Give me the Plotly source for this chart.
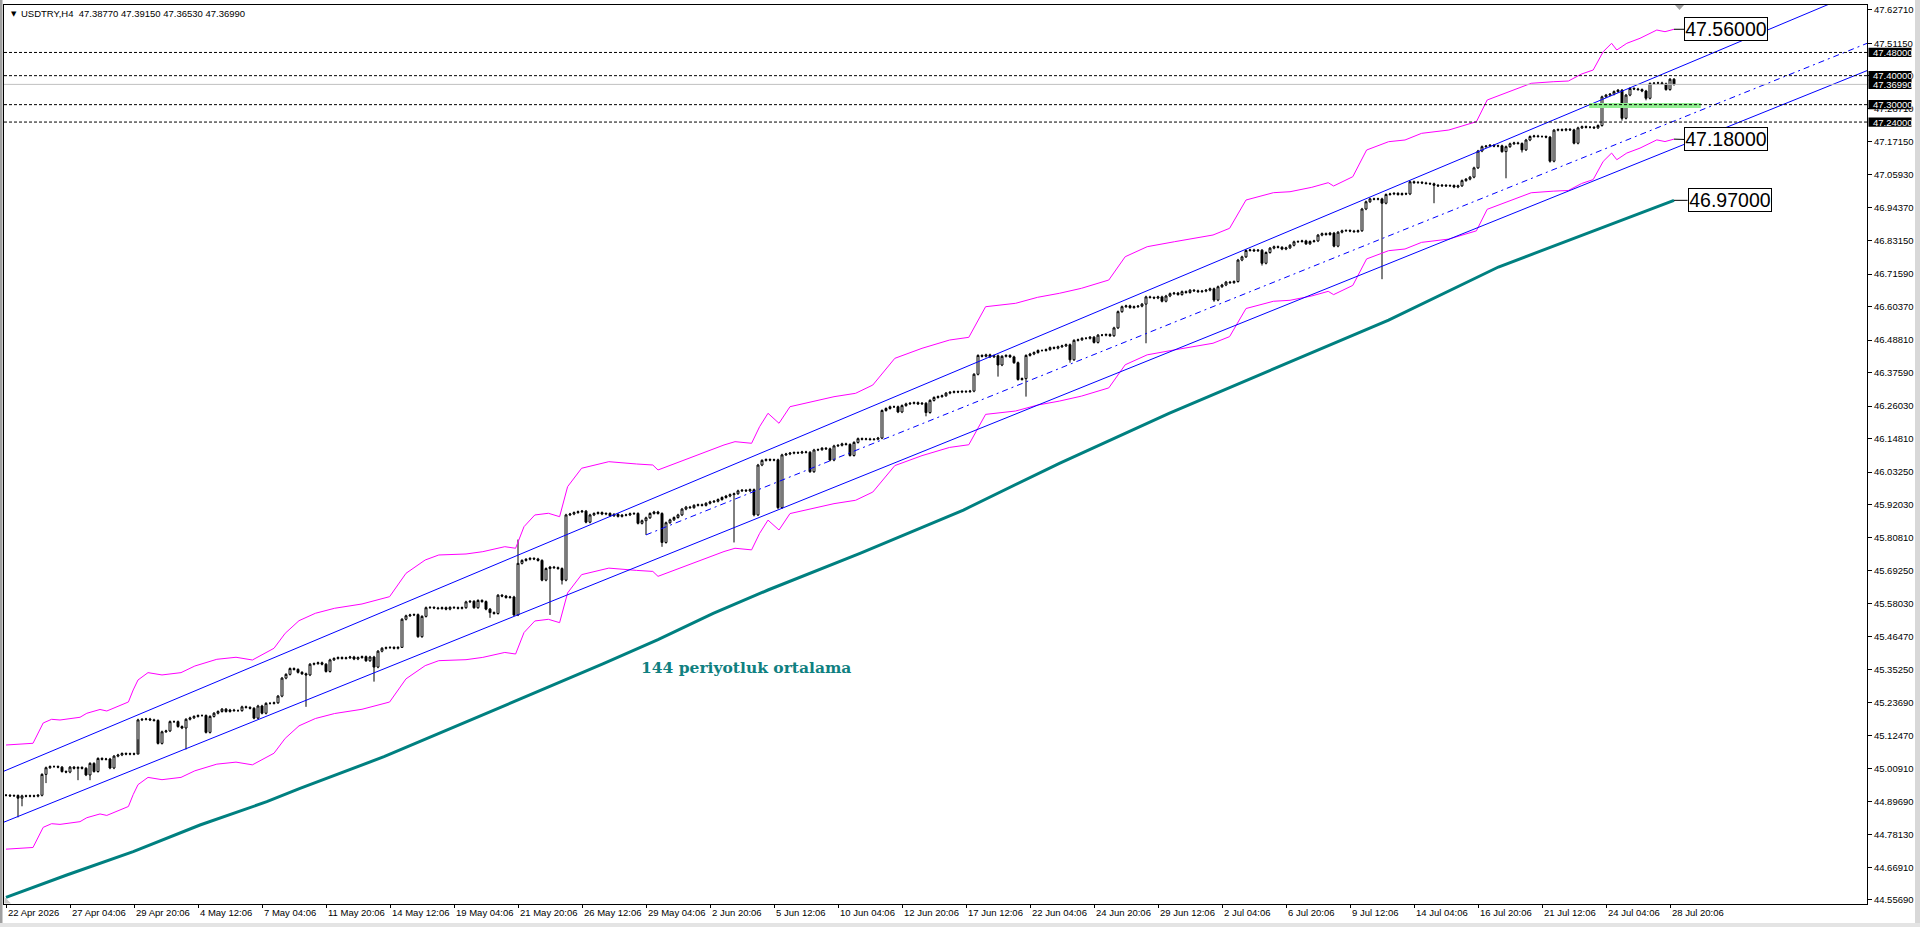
import plotly.graph_objects as go

# ---------------------------------------------------------------- data ----
SYMBOL = "USDTRY,H4"

# H4 closes, bar 0 .. 417
closes = [
    44.918, 44.916, 44.917, 44.908, 44.916, 44.915, 44.916, 44.915, 44.918, 44.990,
    45.013, 45.017, 45.017, 45.015, 45.000, 44.998, 45.015, 45.011, 45.014, 45.011,
    44.988, 45.028, 45.000, 45.045, 45.042, 45.043, 45.012, 45.053, 45.057, 45.062,
    45.060, 45.061, 45.060, 45.178, 45.180, 45.181, 45.178, 45.176, 45.097, 45.137,
    45.140, 45.172, 45.172, 45.155, 45.150, 45.180, 45.185, 45.190, 45.193, 45.193,
    45.135, 45.190, 45.201, 45.207, 45.215, 45.207, 45.212, 45.210, 45.210, 45.223,
    45.221, 45.218, 45.184, 45.226, 45.201, 45.235, 45.235, 45.237, 45.260, 45.322,
    45.335, 45.355, 45.352, 45.342, 45.337, 45.333, 45.370, 45.372, 45.375, 45.370,
    45.345, 45.385, 45.390, 45.393, 45.390, 45.392, 45.395, 45.388, 45.393, 45.396,
    45.382, 45.395, 45.360, 45.415, 45.425, 45.427, 45.428, 45.425, 45.428, 45.525,
    45.537, 45.540, 45.541, 45.465, 45.535, 45.565, 45.566, 45.564, 45.562, 45.565,
    45.560, 45.566, 45.565, 45.563, 45.565, 45.585, 45.587, 45.565, 45.590, 45.586,
    45.560, 45.548, 45.545, 45.608, 45.605, 45.600, 45.602, 45.540, 45.718, 45.728,
    45.732, 45.735, 45.733, 45.728, 45.660, 45.700, 45.705, 45.703, 45.700, 45.660,
    45.885, 45.888, 45.893, 45.896, 45.898, 45.860, 45.885, 45.890, 45.893, 45.888,
    45.890, 45.882, 45.887, 45.880, 45.884, 45.885, 45.889, 45.890, 45.856, 45.865,
    45.875, 45.890, 45.895, 45.890, 45.790, 45.858, 45.868, 45.876, 45.885, 45.905,
    45.912, 45.910, 45.918, 45.920, 45.918, 45.925, 45.930, 45.932, 45.938, 45.945,
    45.950, 45.955, 45.958, 45.968, 45.970, 45.968, 45.972, 45.885, 46.057, 46.073,
    46.076, 46.074, 46.075, 45.910, 46.092, 46.095, 46.098, 46.100, 46.099, 46.102,
    46.101, 46.034, 46.109, 46.110, 46.115, 46.113, 46.074, 46.123, 46.125, 46.130,
    46.128, 46.090, 46.135, 46.148, 46.146, 46.147, 46.145, 46.146, 46.150, 46.245,
    46.252, 46.258, 46.258, 46.240, 46.262, 46.268, 46.270, 46.272, 46.268, 46.270,
    46.238, 46.280, 46.290, 46.293, 46.296, 46.305, 46.308, 46.310, 46.309, 46.311,
    46.310, 46.312, 46.370, 46.435, 46.432, 46.437, 46.430, 46.434, 46.402, 46.432,
    46.435, 46.430, 46.410, 46.352, 46.355, 46.435, 46.440, 46.445, 46.452, 46.452,
    46.455, 46.462, 46.460, 46.465, 46.468, 46.472, 46.420, 46.487, 46.489, 46.494,
    46.494, 46.498, 46.480, 46.505, 46.505, 46.507, 46.503, 46.530, 46.586, 46.603,
    46.606, 46.600, 46.603, 46.605, 46.612, 46.637, 46.635, 46.633, 46.637, 46.622,
    46.640, 46.648, 46.650, 46.645, 46.655, 46.652, 46.660, 46.658, 46.655, 46.657,
    46.660, 46.665, 46.626, 46.672, 46.678, 46.688, 46.686, 46.690, 46.764, 46.775,
    46.797, 46.799, 46.796, 46.798, 46.753, 46.790, 46.805, 46.810, 46.808, 46.802,
    46.806, 46.815, 46.827, 46.828, 46.830, 46.820, 46.828, 46.830, 46.850, 46.855,
    46.852, 46.857, 46.812, 46.860, 46.865, 46.866, 46.864, 46.862, 46.865, 46.940,
    46.965, 46.975, 46.974, 46.975, 46.960, 46.990, 46.992, 46.994, 46.990, 46.993,
    46.992, 47.034, 47.031, 47.032, 47.030, 47.028, 47.027, 47.022, 47.020, 47.022,
    47.020, 47.021, 47.016, 47.020, 47.038, 47.043, 47.050, 47.082, 47.140, 47.155,
    47.157, 47.160, 47.157, 47.158, 47.138, 47.155, 47.165, 47.168, 47.166, 47.144,
    47.178, 47.190, 47.192, 47.190, 47.190, 47.188, 47.105, 47.212, 47.214, 47.212,
    47.215, 47.213, 47.167, 47.220, 47.224, 47.222, 47.222, 47.220, 47.228, 47.327,
    47.333, 47.336, 47.345, 47.350, 47.253, 47.333, 47.356, 47.354, 47.352, 47.347,
    47.322, 47.373, 47.374, 47.375, 47.372, 47.352, 47.3877, 47.3699,
]
first_open = 44.918
# long wicks (bar -> price)
spike_high = {128: 45.800, 417: 47.3915}
spike_low = {3: 44.842, 4: 44.880, 10: 44.960, 18: 44.970, 21: 44.970, 33: 45.111,
             45: 45.076, 75: 45.223, 92: 45.310, 99: 45.430, 121: 45.530, 136: 45.540,
             139: 45.645, 160: 45.816, 164: 45.775, 182: 45.790, 187: 45.880,
             193: 45.905, 230: 46.225, 248: 46.362, 255: 46.293, 266: 46.410,
             285: 46.477, 302: 46.620, 314: 46.745, 344: 46.698, 357: 46.960,
             375: 47.046, 379: 47.135, 386: 47.100, 404: 47.245, 410: 47.315,
             417: 47.3653}
min_wick = 0.004

# price envelope (upper band) read points: bar index, price
env_idx = [0, 6.75, 9.3, 11.4, 13.5, 18.5, 20.2, 23.5, 25.2, 28, 30.6, 31.8, 33, 35.5, 39,
           43.75, 47.2, 52.7, 57.5, 61.6, 67, 69.8, 73.25, 77.35, 82.15, 89, 95.9, 100,
           104.8, 108.2, 115, 119.2, 124.7, 127.4, 129.5, 132.2, 135.6, 138.4, 140.4,
           143.9, 150.7, 157.6, 161.7, 163, 168.5, 175.4, 179.5, 182.25, 186.4, 188.4,
           190.5, 193.25, 196, 201.5, 207, 212.4, 216.7, 222.2, 229, 235.9, 240.7, 244.9,
           252.4, 257.9, 263.35, 268.85, 275.7, 279.8, 285.3, 292.15, 301.75, 305.9, 310,
           316.85, 321, 326.45, 330.55, 331.9, 336.7, 340.15, 345.65, 349.75, 353.9,
           360.7, 367.6, 370.3, 377.2, 381.3, 386.8, 390.6, 393.9, 396.8, 399.3, 401.4,
           402.7, 405.2, 408.5, 411, 412.7, 414.75, 417]
env_up = [45.0914, 45.0973, 45.1673, 45.1800, 45.1776, 45.1870, 45.2008, 45.2139, 45.2087,
          45.2236, 45.2398, 45.2812, 45.3157, 45.3410, 45.3330, 45.3410, 45.3638, 45.3870,
          45.3940, 45.3846, 45.4250, 45.4767, 45.5202, 45.5457, 45.5630, 45.5778, 45.6030,
          45.6836, 45.7295, 45.7468, 45.7502, 45.7582, 45.7754, 45.7699, 45.8444, 45.8848,
          45.8906, 45.8789, 45.9824, 46.0459, 46.0686, 46.0607, 46.0571, 46.0400, 46.0686,
          46.1031, 46.1262, 46.1376, 46.1320, 46.1893, 46.2355, 46.2010, 46.2582, 46.2755,
          46.2927, 46.3044, 46.3330, 46.4250, 46.4596, 46.4882, 46.4975, 46.6031, 46.6148,
          46.6355, 46.6493, 46.6665, 46.6952, 46.7755, 46.8101, 46.8273, 46.8504, 46.8735,
          46.9711, 46.9963, 46.9997, 47.0149, 47.0308, 47.0194, 47.0515, 47.1435, 47.1722,
          47.1781, 47.2011, 47.2125, 47.2412, 47.3160, 47.3505, 47.3736, 47.3791, 47.3815,
          47.4057, 47.4195, 47.4826, 47.5116, 47.4885, 47.5116, 47.5288, 47.5460, 47.5574,
          47.5516, 47.5600]
ENV_DEV = 0.004  # envelope deviation (0.4 %)

# 144 period moving average read points
ma_idx = [0, 15.2, 31.8, 48.5, 65.2, 73.5, 94.5, 112.3, 127.4, 139.75, 149.35, 163, 176.8,
          190.5, 204.2, 213.5, 239.35, 263.35, 290.75, 318.2, 345.65, 373.1, 400.5, 417]
ma_val = [44.5661, 44.6430, 44.7234, 44.8155, 44.8958, 44.9420, 45.0510, 45.1550, 45.2450,
          45.3150, 45.3720, 45.4550, 45.5456, 45.6260, 45.7008, 45.7520, 45.9019, 46.0630,
          46.2354, 46.3961, 46.5572, 46.7400, 46.8850, 46.9700]

# trend channel anchor points (bar, price)
chan_upper = [(-1, 44.9983), (470, 47.7292)]
chan_middle = [(160, 45.8160), (470, 47.5378)]
chan_lower = [(-1, 44.8226), (470, 47.4438)]

levels = [47.48, 47.40, 47.30, 47.24]
zone = (395.8, 423.7, 47.297)          # green support segment
big_labels = [("47.56000", 47.56), ("47.18000", 47.18), ("46.97000", 46.97)]
ma_note = "144 periyotluk ortalama"

x_tick_idx = [0, 16, 32, 48, 64, 80, 96, 112, 128, 144, 160, 176, 192, 208, 224, 240,
              256, 272, 288, 304, 320, 336, 352, 368, 384, 400, 416]
x_tick_text = ["22 Apr 2026", "27 Apr 04:06", "29 Apr 20:06", "4 May 12:06", "7 May 04:06",
               "11 May 20:06", "14 May 12:06", "19 May 04:06", "21 May 20:06",
               "26 May 12:06", "29 May 04:06", "2 Jun 20:06", "5 Jun 12:06",
               "10 Jun 04:06", "12 Jun 20:06", "17 Jun 12:06", "22 Jun 04:06",
               "24 Jun 20:06", "29 Jun 12:06", "2 Jul 04:06", "6 Jul 20:06", "9 Jul 12:06",
               "14 Jul 04:06", "16 Jul 20:06", "21 Jul 12:06", "24 Jul 04:06",
               "28 Jul 20:06"]
y_tick_vals = [47.62710, 47.51150, 47.39930, 47.28710, 47.17150, 47.05930, 46.94370,
               46.83150, 46.71590, 46.60370, 46.48810, 46.37590, 46.26030, 46.14810,
               46.03250, 45.92030, 45.80810, 45.69250, 45.58030, 45.46470, 45.35250,
               45.23690, 45.12470, 45.00910, 44.89690, 44.78130, 44.66910, 44.55690]

# ------------------------------------------------------------- derived ----
n = len(closes)
idx = list(range(n))
opens = [first_open] + closes[:-1]
highs, lows = [], []
for i in idx:
    o, c = opens[i], closes[i]
    highs.append(spike_high.get(i, max(o, c) + min_wick))
    lows.append(spike_low.get(i, min(o, c) - min_wick))
env_lo = [v * (1 - ENV_DEV) / (1 + ENV_DEV) for v in env_up]

# --------------------------------------------------------------- layout ---
W, H = 1920, 927
ML, MR, MT, MB = 4, 53, 5, 23
PW, PH = W - ML - MR, H - MT - MB
X_RANGE = [-0.5, 465.25]
Y_RANGE = [44.5430, 47.6437]
FONT = "Liberation Sans, Arial, sans-serif"


def px(xp):
    return (xp - ML) / PW


def py(yp):
    return (H - MB - yp) / PH


fig = go.Figure()

fig.add_trace(go.Scatter(x=ma_idx, y=ma_val, mode="lines",
                         line=dict(color="#008080", width=3), hoverinfo="skip"))
fig.add_trace(go.Scatter(x=env_idx, y=env_up, mode="lines",
                         line=dict(color="#FF00FF", width=1), hoverinfo="skip"))
fig.add_trace(go.Scatter(x=env_idx, y=env_lo, mode="lines",
                         line=dict(color="#FF00FF", width=1), hoverinfo="skip"))

fig.add_trace(go.Candlestick(
    x=idx, open=opens, high=highs, low=lows, close=closes,
    increasing=dict(line=dict(color="black", width=1), fillcolor="white"),
    decreasing=dict(line=dict(color="black", width=1), fillcolor="black"),
    whiskerwidth=0, hoverinfo="skip"))

for pts, dash in ((chan_upper, "solid"), (chan_lower, "solid"),
                  (chan_middle, "6px,4px,2px,4px")):
    fig.add_trace(go.Scatter(x=[p[0] for p in pts], y=[p[1] for p in pts], mode="lines",
                             line=dict(color="#0000FF", width=1, dash=dash),
                             hoverinfo="skip"))

shapes = []
# green zone under the dotted lines
shapes.append(dict(type="line", xref="x", yref="y", x0=zone[0], x1=zone[1],
                   y0=zone[2], y1=zone[2], line=dict(color="#90EE90", width=5),
                   layer="above"))
# bid line
shapes.append(dict(type="line", xref="paper", yref="y", x0=0, x1=1, y0=closes[-1],
                   y1=closes[-1], line=dict(color="#C0C0C0", width=1), layer="above"))
for lv in levels:
    shapes.append(dict(type="line", xref="paper", yref="y", x0=0, x1=1, y0=lv, y1=lv,
                       line=dict(color="black", width=1, dash="3px,2px"), layer="above"))

annotations = []
# right-side price boxes
box_vals = levels + [closes[-1]]
half = 4.6 * (Y_RANGE[1] - Y_RANGE[0]) / PH
for v in box_vals:
    shapes.append(dict(type="rect", xref="paper", yref="y", x0=px(1868.5), x1=px(1911.5),
                       y0=v - half, y1=v + half, fillcolor="black", line=dict(width=0),
                       layer="above"))
    annotations.append(dict(xref="paper", yref="y", x=px(1871.5), y=v, xanchor="left",
                            yanchor="middle", text=f"{v:.5f}", showarrow=False,
                            font=dict(family=FONT, size=9.5, color="white"), borderpad=0))

# big value boxes with connectors
last = n - 1
big_end = [(env_up[-1], 419.6), (env_lo[-1], 419.6), (ma_val[-1], 420.4)]
for (txt, val), (yv, bx) in zip(big_labels, big_end):
    shapes.append(dict(type="line", xref="x", yref="y", x0=last, x1=bx, y0=yv, y1=val,
                       line=dict(color="black", width=1), layer="above"))
    annotations.append(dict(xref="x", yref="y", x=bx, y=val, xanchor="left",
                            yanchor="middle", text=txt, showarrow=False,
                            font=dict(family=FONT, size=19.5, color="black"),
                            bgcolor="white", bordercolor="black", borderwidth=1,
                            borderpad=0, width=82, height=22))

# x tick labels (left aligned, MT4 style)
for xi, t in zip(x_tick_idx, x_tick_text):
    annotations.append(dict(xref="x", yref="paper", x=xi + 0.2, y=0, xanchor="left",
                            yanchor="top", yshift=-2, text=t, showarrow=False,
                            font=dict(family=FONT, size=9.5, color="black"), borderpad=0))

# title
annotations.append(dict(xref="paper", yref="paper", x=px(8.5), y=py(13.5), xanchor="left",
                        yanchor="middle", text="\u25BC", showarrow=False,
                        font=dict(family="DejaVu Sans", size=7, color="black")))
annotations.append(dict(xref="paper", yref="paper", x=px(19.5), y=py(13.5),
                        xanchor="left", yanchor="middle",
                        text=(f"{SYMBOL}\u00a0\u00a0{opens[-1]:.5f} {highs[-1]:.5f} "
                              f"{lows[-1]:.5f} {closes[-1]:.5f}"),
                        showarrow=False, font=dict(family=FONT, size=9.5, color="black"),
                        borderpad=0))
# MA note
annotations.append(dict(xref="x", yref="y", x=158.3, y=45.357, xanchor="left",
                        yanchor="middle", text=f"<b>{ma_note}</b>", showarrow=False,
                        font=dict(family="DejaVu Serif, serif", size=15.5,
                                  color="#0F8080")))

# window frame / markers
shapes.append(dict(type="rect", xref="paper", yref="paper", x0=px(0), x1=px(2.5),
                   y0=py(927), y1=py(0), fillcolor="#A0A0A0", line=dict(width=0)))
shapes.append(dict(type="rect", xref="paper", yref="paper", x0=px(1915), x1=px(1920),
                   y0=py(927), y1=py(0), fillcolor="#D8D8D8", line=dict(width=0)))
shapes.append(dict(type="rect", xref="paper", yref="paper", x0=px(0), x1=px(1920),
                   y0=py(927), y1=py(923), fillcolor="#E4E4E4", line=dict(width=0)))
shapes.append(dict(type="path", xref="paper", yref="paper",
                   path=(f"M {px(1675)} {py(5)} L {px(1684)} {py(5)} "
                         f"L {px(1679.5)} {py(10)} Z"),
                   fillcolor="#A0A0A0", line=dict(width=0)))
shapes.append(dict(type="path", xref="paper", yref="paper",
                   path=(f"M {px(4.5)} {py(897)} L {px(4.5)} {py(903.5)} "
                         f"L {px(11)} {py(903.5)} Z"),
                   fillcolor="#C8C8C8", line=dict(width=0)))

fig.update_layout(
    width=W, height=H, margin=dict(l=ML, r=MR, t=MT, b=MB, pad=0),
    paper_bgcolor="white", plot_bgcolor="white", showlegend=False,
    shapes=shapes, annotations=annotations,
    xaxis=dict(range=X_RANGE, showgrid=False, zeroline=False, showline=True,
               linecolor="black", linewidth=1, mirror=True, ticks="outside", ticklen=3,
               tickcolor="black", tickvals=x_tick_idx, showticklabels=False,
               rangeslider=dict(visible=False), fixedrange=True),
    yaxis=dict(range=Y_RANGE, side="right", showgrid=False, zeroline=False,
               showline=True, linecolor="black", linewidth=1, mirror=True,
               ticks="outside", ticklen=4, tickcolor="black", tickvals=y_tick_vals,
               ticktext=[f"{v:.5f}" for v in y_tick_vals],
               tickfont=dict(family=FONT, size=9.5, color="black"), fixedrange=True),
)

fig.write_html("out.html", post_script="document.body.style.margin='0';")
